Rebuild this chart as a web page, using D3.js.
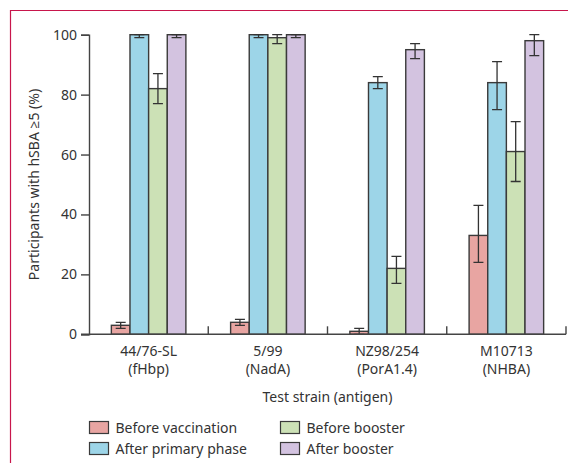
<!DOCTYPE html>
<html>
<head>
<meta charset="utf-8">
<script src="https://cdn.jsdelivr.net/npm/d3@7"></script>
<style>
  body { margin: 0; background: #fff; }
  svg { display: block; font-family: "Noto Sans", "Open Sans", sans-serif; }
</style>
</head>
<body>
<svg id="canvas"></svg>
<script>
const strains = ["44/76-SL", "5/99", "NZ98/254", "M10713"]
const antigens = ["(fHbp)", "(NadA)", "(PorA1.4)", "(NHBA)"]
const seriesNames = ["Before vaccination", "After primary phase", "Before booster", "After booster"]
const colors = ["#e8a5a2", "#9dd5e8", "#cce1b6", "#d3c3e0"]

const beforeVacc = [3, 4, 1, 33]
const afterPrimary = [100, 100, 84, 84]
const beforeBooster = [82, 99, 22, 61]
const afterBooster = [100, 100, 95, 98]

const lowCI = [
  [2, 3, 0, 24],
  [99, 99, 82, 75],
  [77, 97, 17, 51],
  [99, 99, 92, 93]
]
const highCI = [
  [4, 5, 2, 43],
  [100, 100, 86, 91],
  [87, 100, 26, 71],
  [100, 100, 97, 100]
]
const yTicks = [0, 20, 40, 60, 80, 100]

const width = 568
const height = 463
const plotLeft = 89
const plotRight = 566
const plotTop = 34.7
const plotBottom = 334.3

const canvas = d3.select("#canvas").attr("width", width).attr("height", height)

// lancet-style frame
canvas.append("path")
  .attr("d", "M10.5,463 V10.5 H568")
  .attr("fill", "none")
  .attr("stroke", "#c8164c")
  .attr("stroke-width", 1.2)

const allSeries = [beforeVacc, afterPrimary, beforeBooster, afterBooster]

const xScale = d3.scaleBand().domain(strains).range([plotLeft, plotRight])
const inner = d3.scaleBand().domain(seriesNames)
  .range([0, xScale.bandwidth()]).paddingOuter(1.2)
const yScale = d3.scaleLinear().domain([0, 100]).range([plotBottom, plotTop])

const rows = []
strains.forEach((s, i) => {
  allSeries.forEach((vals, j) => {
    rows.push({strain: s, series: seriesNames[j], color: colors[j], v: vals[i], lo: lowCI[j][i], hi: highCI[j][i]})
  })
})

const bars = canvas.append("g")
bars.selectAll("rect")
  .data(rows)
  .enter()
  .append("rect")
  .attr("x", d => xScale(d.strain) + inner(d.series))
  .attr("y", d => yScale(d.v))
  .attr("width", inner.bandwidth())
  .attr("height", d => yScale(0) - yScale(d.v))
  .attr("fill", d => d.color)
  .attr("stroke", "#3a3a3a")
  .attr("stroke-width", 1.4)

const errs = canvas.append("g").attr("stroke", "#333").attr("stroke-width", 1.3).attr("fill", "none")
errs.selectAll("path")
  .data(rows)
  .enter()
  .append("path")
  .attr("d", d => {
    const cx = xScale(d.strain) + inner(d.series) + inner.bandwidth() / 2
    const y1 = yScale(d.hi), y0 = yScale(d.lo)
    return `M${cx - 5},${y1} H${cx + 5} M${cx},${y1} V${y0} M${cx - 5},${y0} H${cx + 5}`
  })

// y axis
const yAxis = d3.axisLeft(yScale).tickValues(yTicks).tickSize(8).tickPadding(4)
const gy = canvas.append("g")
  .attr("transform", "translate(" + plotLeft + ", 0)")
  .call(yAxis)
gy.select(".domain").attr("stroke", "#444").attr("stroke-width", 1.4)
gy.selectAll(".tick line").attr("stroke", "#444").attr("stroke-width", 1.4)
gy.selectAll("text").attr("font-size", 14).attr("fill", "#333").attr("font-family", "Noto Sans")

// x axis baseline with upward ticks at group borders
const gx = canvas.append("g").attr("stroke", "#444").attr("stroke-width", 1.4)
gx.append("line").attr("x1", plotLeft - 8).attr("x2", plotRight).attr("y1", plotBottom).attr("y2", plotBottom)
gx.selectAll(".xt")
  .data(strains)
  .enter()
  .append("line")
  .attr("x1", d => xScale(d) + xScale.bandwidth())
  .attr("x2", d => xScale(d) + xScale.bandwidth())
  .attr("y1", plotBottom)
  .attr("y2", plotBottom - 8)

const labels = canvas.append("g").attr("fill", "#333").attr("font-size", 14).attr("text-anchor", "middle")
strains.forEach((s, i) => {
  const cx = xScale(s) + xScale.bandwidth() / 2
  labels.append("text").attr("x", cx).attr("y", 356).text(s)
  labels.append("text").attr("x", cx).attr("y", 374).text(antigens[i])
})
labels.append("text").attr("x", (plotLeft + plotRight) / 2).attr("y", 402).text("Test strain (antigen)")

canvas.append("text")
  .attr("transform", "translate(39," + ((plotTop + plotBottom) / 2) + ") rotate(-90)")
  .attr("text-anchor", "middle")
  .attr("font-size", 14)
  .attr("fill", "#333")
  .text("Participants with hSBA \u22655 (%)")

// legend
const legend = canvas.append("g").attr("font-size", 14).attr("fill", "#333")
seriesNames.forEach((name, j) => {
  const col = j === 0 || j === 1 ? 0 : 1
  const row = j === 0 || j === 2 ? 0 : 1
  const lx = col === 0 ? 89.5 : 280.5
  const ly = 421.5 + row * 21
  legend.append("rect").attr("x", lx).attr("y", ly).attr("width", 19).attr("height", 12)
    .attr("fill", colors[j]).attr("stroke", "#3a3a3a").attr("stroke-width", 1.2)
  legend.append("text").attr("x", lx + 26).attr("y", ly + 11).text(name)
})
</script>
</body>
</html>
